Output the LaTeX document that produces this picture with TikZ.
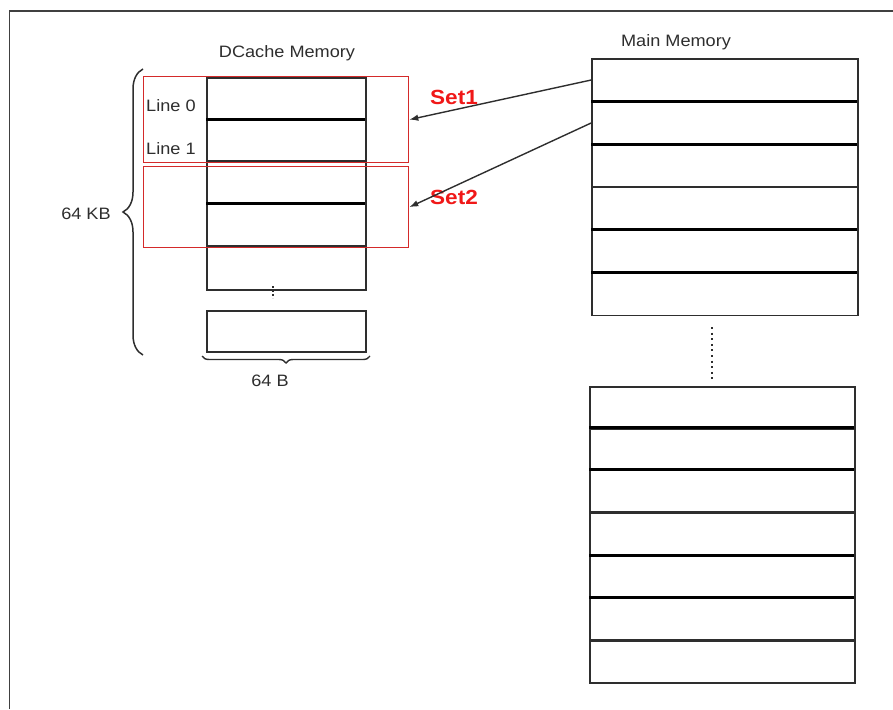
\documentclass[tikz,border=0pt]{standalone}
\usepackage{fontspec}
\setmainfont{Liberation Sans}[FakeStretch=1.1]
\usetikzlibrary{decorations.pathreplacing,arrows.meta}
\definecolor{ink}{HTML}{2E2E2E}
\definecolor{setred}{HTML}{F01818}
\definecolor{boxred}{HTML}{D42A2A}
\begin{document}
\begin{tikzpicture}[x=1pt,y=-1pt,
  lbl/.style={text=ink,font=\fontsize{16.5}{18}\selectfont,inner sep=0pt},
  setlbl/.style={text=setred,font=\fontsize{20.5}{22}\selectfont\bfseries,inner sep=0pt},
  cell/.style={draw=ink,line width=1.6pt,inner sep=0pt,anchor=north west},
  sep/.style={line width=3pt,black},
  thin/.style={line width=1.8pt,ink},
  setbox/.style={draw=boxred,line width=1.3pt,inner sep=0pt,anchor=north west},
  conn/.style={draw=ink,line width=1.4pt,-{Latex[length=9pt,width=6.5pt]}}]
\useasboundingbox (0,0) rectangle (893,709);
% frame
\draw[line width=1.6pt,black!75] (9.5,709) -- (9.5,11) -- (893,11);

% titles
\node[lbl] (dtitle) at (287,53) {DCache Memory};
\node[lbl] (mtitle) at (676,42) {Main Memory};

% cache column
\node[cell,minimum width=159pt,minimum height=212pt] (cache) at (206,77) {};
\draw[sep] (cache.north west) ++(0,42) coordinate (c1l) -- ++(159,0);
\draw[thin] (cache.north west) ++(0,84) -- ++(159,0);
\draw[sep] (cache.north west) ++(0,126) -- ++(159,0);
\draw[thin] (cache.north west) ++(0,169) -- ++(159,0);
\node[cell,minimum width=159pt,minimum height=41pt] (clast) at (206,310) {};
\coordinate (dtop) at (273,286);
\coordinate (dbot) at (273,298);
\draw[ink,line width=1.8pt,dash pattern=on 2pt off 2pt] (dtop) -- (dbot);

% set boxes
\node[setbox,minimum width=265pt,minimum height=86pt] (set1) at (143,76) {};
\node[setbox,minimum width=265pt,minimum height=81pt] (set2) at (143,166) {};

% line labels
\node[lbl,anchor=west] (l0) at (146,106) {Line 0};
\node[lbl,anchor=west] (l1) at (146,149) {Line 1};

% set labels
\node[setlbl,anchor=west] (s1) at (430,97) {Set1};
\node[setlbl,anchor=west] (s2) at (430,197) {Set2};

% braces
\coordinate (lb1) at (143,355);
\coordinate (lb2) at (143,69);
\draw[ink,line width=1.5pt,decorate,decoration={brace,amplitude=20pt}] (lb1) -- (lb2);
\node[lbl] (kb) at (86,214) {64 KB};
\coordinate (bb1) at (370,356);
\coordinate (bb2) at (202,356);
\draw[ink,line width=1.4pt,decorate,decoration={brace,amplitude=7pt}] (bb1) -- (bb2);
\node[lbl] (b64) at (270,381) {64 B};

% main memory upper block
\foreach \i/\y in {1/58,2/101,3/144,4/186,5/229,6/272}{
  \node[cell,minimum width=266pt,minimum height=42.5pt] (mm\i) at (591,\y) {};
}
\draw[sep] (591,101) -- (857,101);
\draw[sep] (591,144) -- (857,144);
\draw[sep] (591,229) -- (857,229);
\draw[sep] (591,272) -- (857,272);

% dotted
\coordinate (mdt) at (712,327);
\coordinate (mdb) at (712,381);
\draw[ink,line width=2pt,dash pattern=on 2pt off 3.6pt] (mdt) -- (mdb);

% main memory lower block
\foreach \i/\y in {1/386,2/427,3/469,4/512,5/555,6/597,7/640}{
  \node[cell,minimum width=265pt,minimum height=42.3pt] (ml\i) at (589,\y) {};
}
\draw[sep] (589,427) -- (854,427);
\draw[sep] (589,469) -- (854,469);
\draw[sep] (589,555) -- (854,555);
\draw[sep] (589,597) -- (854,597);

% arrows
\draw[conn] (mm1.west) -- (set1.east);
\draw[conn] (mm2.west) -- (set2.east);
\end{tikzpicture}
\end{document}
